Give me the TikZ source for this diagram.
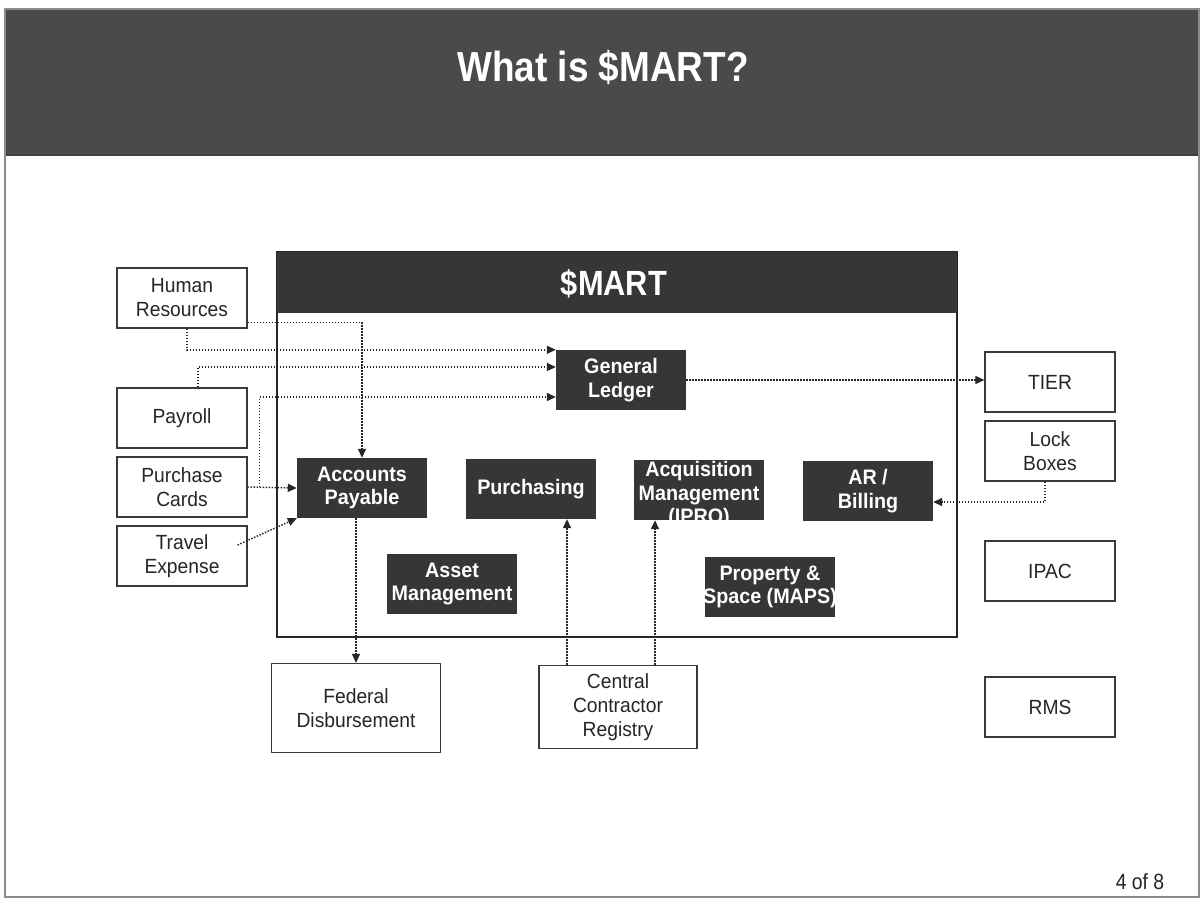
\documentclass[tikz,border=0pt]{standalone}
\usepackage{fontspec}
\setmainfont{Liberation Sans}
\newfontfamily\narrowfont[FakeStretch=0.88]{Liberation Sans}
\newfontfamily\boxfont[FakeStretch=0.94]{Liberation Sans}
\usetikzlibrary{arrows.meta}
\definecolor{barra}{HTML}{4A4A4A}
\definecolor{caja}{HTML}{363636}
\definecolor{borde}{HTML}{3A3A3A}

\begin{document}
\begin{tikzpicture}[x=1pt, y=-1pt, >={Triangle[length=9pt, width=8pt]},
    whitebox/.style={draw=borde, line width=1.2pt, fill=white, minimum width=130, minimum height=60,
        inner sep=0, align=center, text=black!85, font=\boxfont\fontsize{20.5}{24}\selectfont},
    darkbox/.style={fill=caja, minimum width=130, minimum height=60, inner sep=0},
    darktext/.style={text=white, align=center, inner sep=0, font=\boxfont\bfseries\fontsize{21}{23.5}\selectfont},
    link/.style={->, line width=1.4pt, dash pattern=on 1.5pt off 1.5pt, draw=black!85}]
    \useasboundingbox (0,0) rectangle (1203,905);

    % Marco y titulo
    \fill[white] (0,0) rectangle (1203,905);
    \draw[black!45, line width=1.2pt] (5,9) rectangle (1199,897);
    \fill[barra] (6,10) rectangle (1198,155);
    \draw[black!75, line width=2pt] (6,155) -- (1198,155);
    \node[text=white, font=\narrowfont\bfseries\fontsize{42}{48}\selectfont] (titulo) at (603,67) {What is \$MART?};

    % Sistema
    \node[draw=black!85, line width=1.2pt, minimum width=680, minimum height=385, inner sep=0] (sistema) at (617,444.5) {};
    \node[fill=caja, minimum width=680, minimum height=61, inner sep=0] (cabecera) at (617,282.5) {};
    \node[text=white, font=\narrowfont\bfseries\fontsize{35}{40}\selectfont] (smart) at (614,284) {\$MART};

    % Modulos
    \node[darkbox, label={[darktext]center:{General\\Ledger}}] (gl) at (621,380) {};
    \node[darkbox, label={[darktext]center:{Accounts\\Payable}}] (ap) at (362,488) {};
    \node[darkbox, label={[darktext]center:{Purchasing}}] (pu) at (531,489) {};
    \node[darkbox, label={[darktext, yshift=-5pt]center:{Acquisition\\Management\\(IPRO)}}] (aq) at (699,490) {};
    \node[darkbox, label={[darktext]center:{AR /\\Billing}}] (ar) at (868,491) {};
    \node[darkbox, label={[darktext]center:{Asset\\Management}}] (am) at (452,584) {};
    \node[darkbox, label={[darktext]center:{Property \&\\Space (MAPS)}}] (pm) at (770,587) {};

    % Sistemas externos
    \node[whitebox] (hr) at (182,298) {Human\\Resources};
    \node[whitebox] (pay) at (182,418) {Payroll};
    \node[whitebox] (pc) at (182,487) {Purchase\\Cards};
    \node[whitebox] (te) at (182,556) {Travel\\Expense};
    \node[whitebox] (tier) at (1050,382) {TIER};
    \node[whitebox] (lb) at (1050,451) {Lock\\Boxes};
    \node[whitebox] (ipac) at (1050,571) {IPAC};
    \node[whitebox] (rms) at (1050,707) {RMS};
    \node[whitebox, minimum width=169, minimum height=89] (fd) at (356,708) {Federal\\Disbursement};
    \node[whitebox, minimum width=158, minimum height=83] (ccr) at (618,707) {Central\\Contractor\\Registry};

    \node[text=black!85, font=\narrowfont\fontsize{22}{26}\selectfont] (pagina) at (1140,882) {4 of 8};

    % Flujos
    \coordinate (c1) at ([xshift=-51pt]ccr.north);
    \coordinate (c2) at ([xshift=37pt]ccr.north);
    \draw[link] ([yshift=6pt]hr.south east) -| (ap.north);
    \draw[link] ([xshift=5pt]hr.south) |- (gl.north west);
    \draw[link] ([xshift=16pt]pay.north) |- ([yshift=13pt]gl.west);
    \draw[link] (pc.east) -- (ap.west);
    \draw[link] ([xshift=12pt]pc.east) |- ([yshift=-17pt]gl.west);
    \draw[link] ([xshift=-10pt, yshift=11pt]te.east) -- (ap.south west);
    \draw[link] (ap.south -| fd.north) -- (fd.north);
    \draw[link] (c1) -- (c1 |- pu.south);
    \draw[link] (c2) -- (c2 |- aq.south);
    \draw[link] (gl.east) -- (gl.east -| tier.west);
    \draw[link] ([xshift=-5pt]lb.south) |- ([yshift=-11pt]ar.east);
\end{tikzpicture}
\end{document}
